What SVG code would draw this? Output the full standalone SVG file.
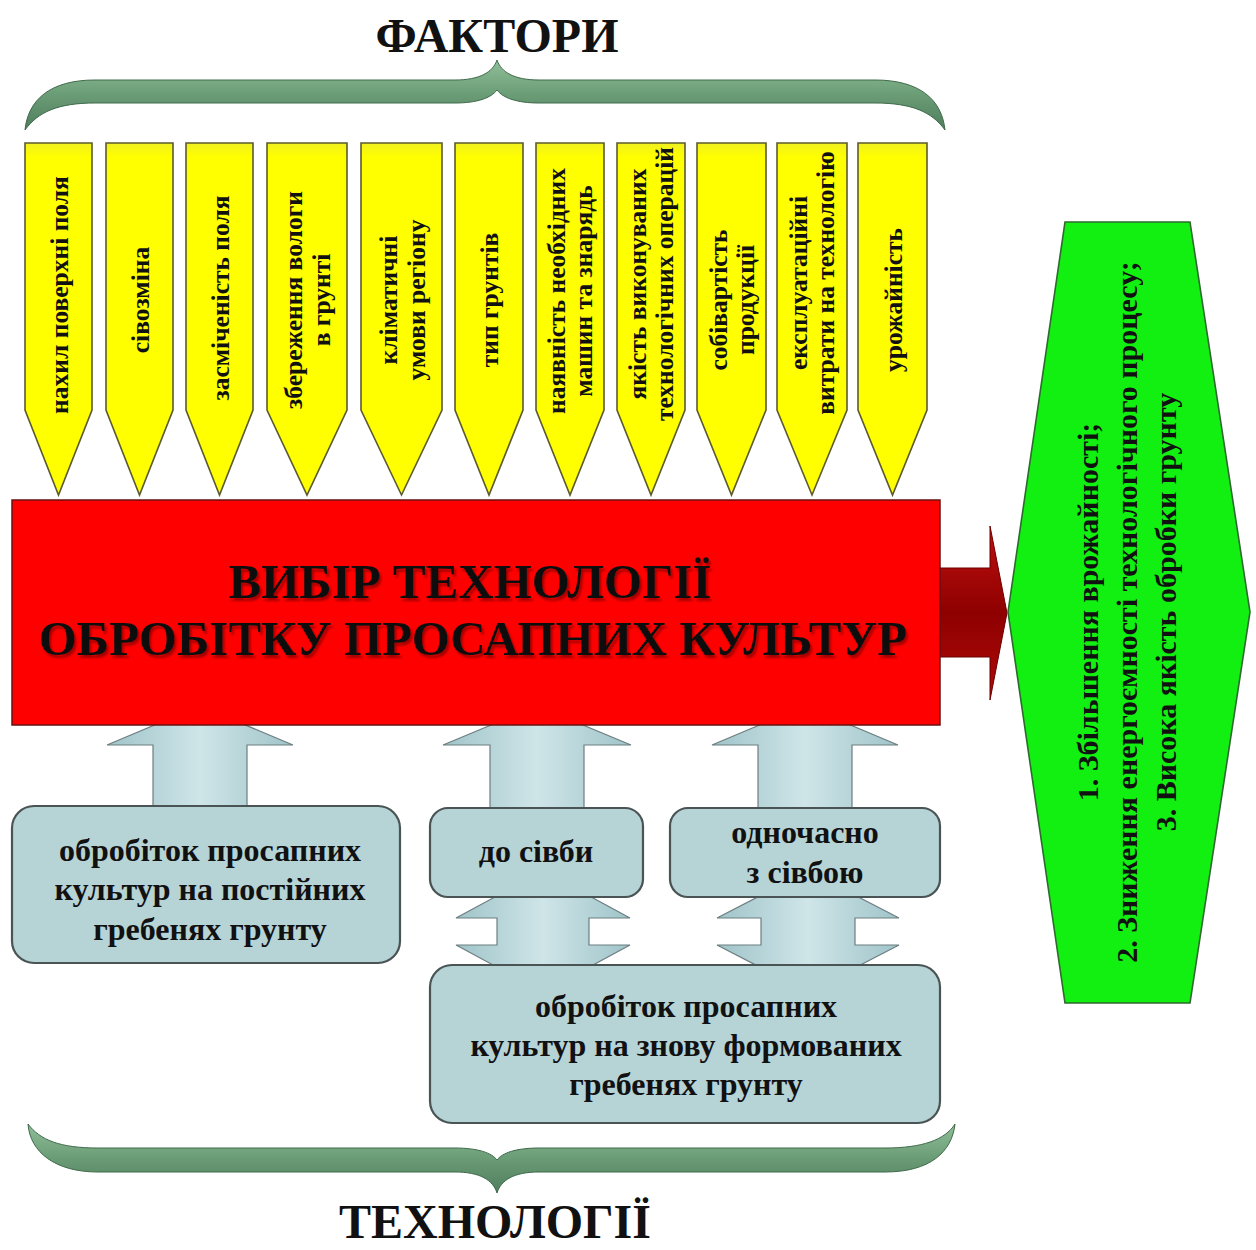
<svg xmlns="http://www.w3.org/2000/svg" width="1256" height="1250" viewBox="0 0 1256 1250">
<defs>
<linearGradient id="gBrace" x1="0" y1="0" x2="0" y2="1">
<stop offset="0" stop-color="#8fbf98"/><stop offset="0.5" stop-color="#6a9c76"/><stop offset="1" stop-color="#4f7d5c"/>
</linearGradient>
<linearGradient id="gYel" x1="0" y1="0" x2="0" y2="1">
<stop offset="0" stop-color="#f0f020"/><stop offset="0.04" stop-color="#ffff00"/><stop offset="1" stop-color="#ffff00"/>
</linearGradient>
<linearGradient id="gBlueArrow" x1="0" y1="0" x2="1" y2="0">
<stop offset="0" stop-color="#9fc4c9"/><stop offset="0.5" stop-color="#cfe5e8"/><stop offset="1" stop-color="#9fc4c9"/>
</linearGradient>
<linearGradient id="gRedArrow" x1="0" y1="0" x2="0" y2="1">
<stop offset="0" stop-color="#c01010"/><stop offset="0.5" stop-color="#8e0000"/><stop offset="1" stop-color="#b00a0a"/>
</linearGradient>
<filter id="shadow" x="-5%" y="-20%" width="110%" height="150%">
<feDropShadow dx="2" dy="3" stdDeviation="1" flood-color="#6a0000" flood-opacity="0.6"/>
</filter>
<style>
.t{font-family:"Liberation Serif","Times New Roman",serif;font-weight:bold;fill:#111}
.brace{fill:url(#gBrace);stroke:#3f6a4a;stroke-width:1}
.yel{fill:url(#gYel);stroke:#5b5b2e;stroke-width:1.6}
.ytxt{font-size:25.5px;text-anchor:middle}
.box{fill:#b6d3d6;stroke:#4a5454;stroke-width:2.2}
.btxt{font-size:32px;text-anchor:middle}
.barrow{fill:url(#gBlueArrow);stroke:#6d7e80;stroke-width:1.2}
</style>
</defs>
<rect width="1256" height="1250" fill="#ffffff"/>

<g id="title-factors"><text class="t" x="497" y="52" font-size="48" text-anchor="middle">ФАКТОРИ</text></g>

<g id="brace-top">
<path class="brace" d="M 25,130 C 28,100 50,80 95,80 L 455,80 C 480,80 493,72 497,60 C 501,72 514,80 539,80 L 875,80 C 920,80 942,100 945,130 C 932,112 912,103 875,103 L 539,103 C 517,103 503,98 497,90 C 491,98 477,103 455,103 L 95,103 C 58,103 38,112 25,130 Z"/>
</g>

<g id="factors">
<g id="f1"><path class="yel" d="M25,143 H92 V410 L58.5,495 L25,410 Z"/><text class="t ytxt" transform="translate(58.5,295) rotate(-90)" y="9">нахил поверхні поля</text></g>
<g id="f2"><path class="yel" d="M106,143 H173 V410 L139.5,495 L106,410 Z"/><text class="t ytxt" transform="translate(139.5,300) rotate(-90)" y="9">сівозміна</text></g>
<g id="f3"><path class="yel" d="M186,143 H253 V410 L219.5,495 L186,410 Z"/><text class="t ytxt" transform="translate(219.5,298) rotate(-90)" y="9">засміченість поля</text></g>
<g id="f4"><path class="yel" d="M267,143 H347 V410 L307,495 L267,410 Z"/><text class="t ytxt" transform="translate(307,300) rotate(-90)"><tspan x="0" y="-5">збереження вологи</tspan><tspan x="0" y="23">в грунті</tspan></text></g>
<g id="f5"><path class="yel" d="M361,143 H442 V410 L401.5,495 L361,410 Z"/><text class="t ytxt" transform="translate(401.5,300) rotate(-90)"><tspan x="0" y="-5">кліматичні</tspan><tspan x="0" y="23">умови регіону</tspan></text></g>
<g id="f6"><path class="yel" d="M455,143 H523 V410 L489,495 L455,410 Z"/><text class="t ytxt" transform="translate(489,300) rotate(-90)" y="9">тип грунтів</text></g>
<g id="f7"><path class="yel" d="M536,143 H604 V410 L570,495 L536,410 Z"/><text class="t ytxt" transform="translate(570,291) rotate(-90)"><tspan x="0" y="-5">наявність необхідних</tspan><tspan x="0" y="22">машин та знарядь</tspan></text></g>
<g id="f8"><path class="yel" d="M617,143 H685 V410 L651,495 L617,410 Z"/><text class="t ytxt" transform="translate(651,284) rotate(-90)"><tspan x="0" y="-5">якість виконуваних</tspan><tspan x="0" y="22">технологічних операцій</tspan></text></g>
<g id="f9"><path class="yel" d="M697,143 H766 V410 L731.5,495 L697,410 Z"/><text class="t ytxt" transform="translate(731.5,300) rotate(-90)"><tspan x="0" y="-5">собівартість</tspan><tspan x="0" y="22">продукції</tspan></text></g>
<g id="f10"><path class="yel" d="M777,143 H847 V410 L812,495 L777,410 Z"/><text class="t ytxt" transform="translate(812,283) rotate(-90)"><tspan x="0" y="-5">експлуатаційні</tspan><tspan x="0" y="22">витрати на технологію</tspan></text></g>
<g id="f11"><path class="yel" d="M858,143 H927 V410 L892.5,495 L858,410 Z"/><text class="t ytxt" transform="translate(892.5,300) rotate(-90)" y="9">урожайність</text></g>
</g>

<g id="connectors">
<path class="barrow" d="M153,812 V745 H107 L200,706 L293,745 H247 V812 Z"/>
<path class="barrow" d="M490,812 V745 H443 L537,706 L631,745 H584 V812 Z"/>
<path class="barrow" d="M758,812 V745 H712 L805,706 L898,745 H852 V812 Z"/>
<path class="barrow" d="M497,918 H456 L543,871 L630,918 H589 V945 H630 L543,992 L456,945 H497 Z"/>
<path class="barrow" d="M761,918 H717 L808,871 L899,918 H855 V945 H899 L808,992 L717,945 H761 Z"/>
<path fill="url(#gRedArrow)" stroke="#6a0000" stroke-width="1" d="M935,568 H990 V526 L1007,613 L990,700 V657 H935 Z"/>
</g>

<g id="main">
<rect x="12" y="500" width="928" height="225" fill="#ff0000" stroke="#6a1010" stroke-width="1.5"/>
<text class="t" filter="url(#shadow)" font-size="49" text-anchor="middle"><tspan x="470" y="598">ВИБІР ТЕХНОЛОГІЇ</tspan><tspan x="473" y="655">ОБРОБІТКУ ПРОСАПНИХ КУЛЬТУР</tspan></text>
</g>

<g id="result">
<path d="M1065,222 H1190 L1250,612 L1190,1003 H1065 L1008,612 Z" fill="#11f011" stroke="#2e6a2e" stroke-width="1.6"/>
<text class="t" transform="translate(1127,612) rotate(-90)" font-size="30" text-anchor="middle"><tspan x="0" y="-29">1. Збільшення врожайності;</tspan><tspan x="0" y="10">2. Зниження енергоємності технологічного процесу;</tspan><tspan x="0" y="49">3. Висока якість обробки грунту</tspan></text>
</g>

<g id="tech-permanent">
<rect class="box" x="12" y="806" width="388" height="157" rx="22"/>
<text class="t btxt" x="210" y="861">обробіток просапних</text>
<text class="t btxt" x="210" y="900">культур на постійних</text>
<text class="t btxt" x="210" y="940">гребенях грунту</text>
</g>
<g id="tech-before">
<rect class="box" x="430" y="808" width="213" height="89" rx="18"/>
<text class="t btxt" x="536" y="862">до сівби</text>
</g>
<g id="tech-simult">
<rect class="box" x="670" y="808" width="270" height="89" rx="18"/>
<text class="t btxt" x="805" y="843">одночасно</text>
<text class="t btxt" x="805" y="883">з сівбою</text>
</g>
<g id="tech-new">
<rect class="box" x="430" y="965" width="510" height="158" rx="22"/>
<text class="t btxt" x="686" y="1017">обробіток просапних</text>
<text class="t btxt" x="686" y="1056">культур на знову формованих</text>
<text class="t btxt" x="686" y="1095">гребенях грунту</text>
</g>

<g id="brace-bottom">
<path class="brace" d="M 28,1124 C 40,1140 60,1148 98,1148 L 455,1148 C 478,1148 492,1153 497,1160 C 502,1153 516,1148 539,1148 L 885,1148 C 922,1148 945,1140 955,1124 C 952,1152 930,1172 885,1172 L 539,1172 C 514,1172 501,1180 497,1193 C 493,1180 480,1172 455,1172 L 98,1172 C 55,1172 30,1152 28,1124 Z"/>
</g>

<g id="title-tech"><text class="t" x="495" y="1238" font-size="48" text-anchor="middle">ТЕХНОЛОГІЇ</text></g>
</svg>
